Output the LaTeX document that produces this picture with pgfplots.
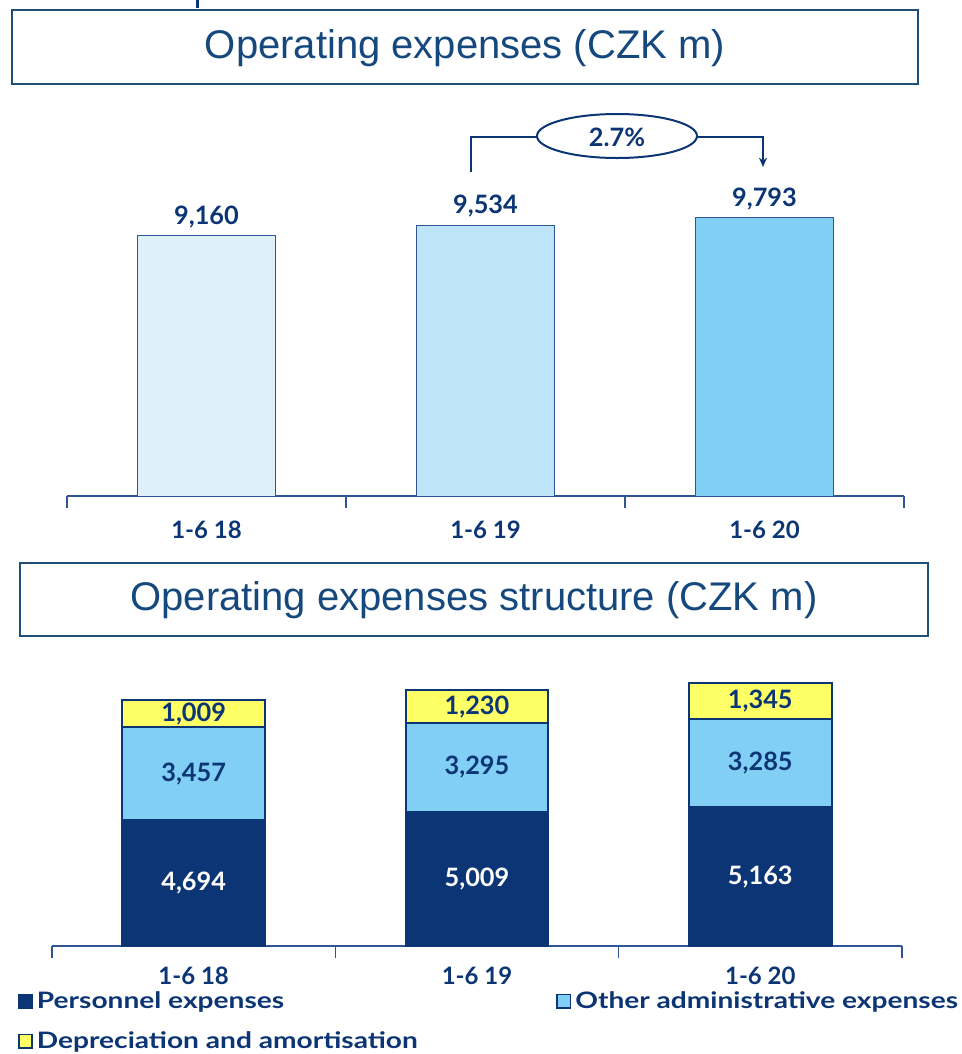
\documentclass[border=0pt]{standalone}
\usepackage{pgfplots}
\pgfplotsset{compat=1.18}
\usepackage{fontspec}
\setmainfont{Lato}
\newfontfamily\arialfont{Liberation Sans}
\newfontfamily\legfont[FakeStretch=1.24]{Lato}
\usetikzlibrary{arrows.meta}
\definecolor{navy}{HTML}{0B3574}
\definecolor{titleblue}{HTML}{15497E}
\definecolor{boxblue}{HTML}{1F4E79}
\definecolor{barA}{HTML}{DFF0FB}
\definecolor{barB}{HTML}{BDE4F8}
\definecolor{barC}{HTML}{82CFF5}
\definecolor{yel}{HTML}{FFFF66}
\definecolor{axisblue}{HTML}{2F5597}
\pgfplotsset{
  catstyle/.style={
    scale only axis, xmin=-0.5, xmax=2.5, ymin=0,
    axis x line*=bottom, axis y line=none,
    x axis line style={axisblue, line width=0.8pt},
    xtick={0,1,2}, xticklabels={1-6 18,1-6 19,1-6 20},
    major tick length=0pt, tick align=outside,
    extra x ticks={-0.5,0.5,1.5,2.5}, extra x tick labels={},
    extra x tick style={major tick length=9pt, tick align=outside, tick style={axisblue, line width=0.8pt}},
    xticklabel style={font=\fontsize{18}{20}\selectfont\bfseries, text=navy},
    /pgf/number format/.cd, 1000 sep={,}, assume math mode=true,
  }
}
\begin{document}
\begin{tikzpicture}
\path[use as bounding box] (0,0) rectangle (721.5pt,-790.5pt);
\begin{scope}[x=0.75pt,y=-0.75pt]
\fill[navy] (196,0) rectangle (199,8);
\draw[boxblue, line width=1.5pt] (12,10) rectangle (918,84);
\node[font=\arialfont\fontsize{30}{34}\selectfont, text=titleblue] at (465,48) {Operating expenses (CZK m)};
\draw[boxblue, line width=1.5pt] (20,563) rectangle (928,636);
\node[font=\arialfont\fontsize{30}{34}\selectfont, text=titleblue] at (474,600) {Operating expenses structure (CZK m)};
\draw[navy, line width=1.5pt] (471,172) -- (471,137) -- (537,137);
\draw[navy, line width=1.5pt] (617,136) ellipse [x radius=80, y radius=22];
\node[font=\fontsize{19}{22}\selectfont\bfseries, text=navy] at (617,137) {2.7\%};
\draw[navy, line width=1.5pt, -{Stealth[length=7pt,width=6pt]}] (697,137) -- (763,137) -- (763,167);
\end{scope}

\begin{axis}[catstyle, at={(50.25pt,-372pt)}, anchor=south west,
  width=627.75pt, height=297pt, ymax=13939,
  ybar, bar width=104pt, bar shift=0pt,
  xticklabel style={yshift=-15pt},
  nodes near coords={\pgfmathprintnumber{\pgfplotspointmeta}},
  every node near coord/.append style={font=\fontsize{19}{22}\selectfont\bfseries, text=navy, yshift=2pt},
]
\addplot[fill=barA, draw=axisblue, line width=0.7pt] coordinates {(0,9160)};
\addplot[fill=barB, draw=axisblue, line width=0.7pt] coordinates {(1,9534)};
\addplot[fill=barC, draw=axisblue, line width=0.7pt] coordinates {(2,9793)};
\end{axis}

\begin{axis}[catstyle, at={(39pt,-709.5pt)}, anchor=south west,
  width=637.5pt, height=214.5pt, ymax=10653,
  ybar stacked, bar width=107pt,
  xticklabel style={yshift=-12pt},
  legend columns=2, legend cell align=left,
  legend image code/.code={\draw[#1, line width=1.2pt] (0pt,-5pt) rectangle (10pt,5pt);},
  legend style={at={(-0.045,-0.14)}, anchor=north west, draw=none, fill=none,
    font=\legfont\fontsize{17}{20}\selectfont\bfseries, text=navy, row sep=12pt,
    /tikz/every even column/.append style={column sep=102pt},
    /tikz/every odd column/.append style={column sep=1pt}},
]
\addplot[fill=navy, draw=navy, line width=1.5pt] coordinates {(0,4694) (1,5009) (2,5163)};
\addplot[fill=barC, draw=navy, line width=1.5pt] coordinates {(0,3457) (1,3295) (2,3285)};
\addplot[fill=yel, draw=navy, line width=1.5pt] coordinates {(0,1009) (1,1230) (2,1345)};
\legend{Personnel expenses, Other administrative expenses, Depreciation and amortisation}
\end{axis}

\begin{axis}[at={(39pt,-709.5pt)}, anchor=south west, scale only axis,
  width=637.5pt, height=214.5pt, xmin=-0.5, xmax=2.5, ymin=0, ymax=10653,
  axis lines=none, point meta=explicit,
  /pgf/number format/.cd, 1000 sep={,}, assume math mode=true, /pgfplots/.cd,
  nodes near coords={\pgfmathprintnumber{\pgfplotspointmeta}},
  every node near coord/.append style={anchor=center, font=\fontsize{19}{22}\selectfont\bfseries, text=navy},
]
\addplot[draw=none, mark=none, every node near coord/.append style={text=white}] table[meta=v] {
x y v
0 2347 4694
1 2504.5 5009
2 2581.5 5163
};
\addplot[draw=none, mark=none] table[meta=v] {
x y v
0 6422.5 3457
1 6656.5 3295
2 6805.5 3285
};
\addplot[draw=none, mark=none] table[meta=v] {
x y v
0 8655.5 1009
1 8919 1230
2 9120.5 1345
};
\end{axis}
\end{tikzpicture}
\end{document}
